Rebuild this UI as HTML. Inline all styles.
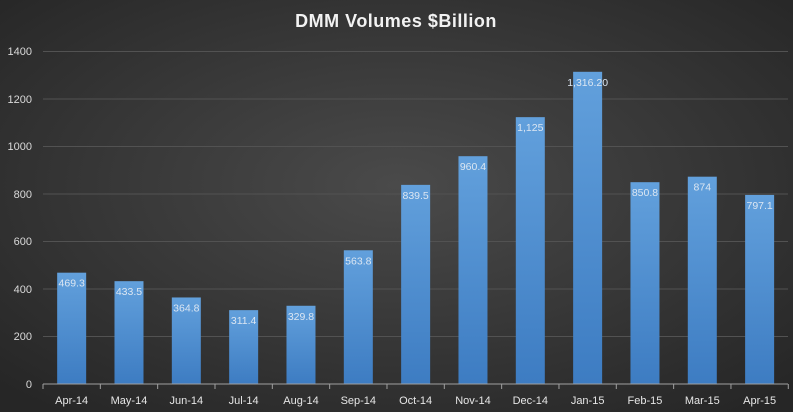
<!DOCTYPE html>
<html><head><style>
html,body{margin:0;padding:0;background:#333;}
svg{display:block;font-family:"Liberation Sans",sans-serif;}
</style></head><body>
<svg width="793" height="412" xmlns="http://www.w3.org/2000/svg">
<defs>
<radialGradient id="bg" cx="50%" cy="45%" r="70%">
<stop offset="0" stop-color="#4a4a4a"/><stop offset="1" stop-color="#262626"/>
</radialGradient>
<linearGradient id="bar" x1="0" y1="0" x2="0" y2="1">
<stop offset="0" stop-color="#62a0dc"/><stop offset="1" stop-color="#3d7cc2"/>
</linearGradient>
</defs>
<rect width="793" height="412" fill="url(#bg)"/>
<text x="396" y="27" fill="#f2f2f2" font-size="18" font-weight="bold" text-anchor="middle" letter-spacing="0.5">DMM Volumes $Billion</text>
<g stroke="#525252" stroke-width="1">
<line x1="43" x2="788" y1="336.5" y2="336.5"/><line x1="43" x2="788" y1="289" y2="289"/>
<line x1="43" x2="788" y1="241.5" y2="241.5"/><line x1="43" x2="788" y1="194" y2="194"/>
<line x1="43" x2="788" y1="146.5" y2="146.5"/><line x1="43" x2="788" y1="99" y2="99"/>
<line x1="43" x2="788" y1="51.5" y2="51.5"/>
</g>
<g fill="#d9d9d9" font-size="11" text-anchor="end">
<text x="32" y="388">0</text><text x="32" y="340">200</text><text x="32" y="293">400</text>
<text x="32" y="245">600</text><text x="32" y="198">800</text><text x="32" y="150">1000</text>
<text x="32" y="103">1200</text><text x="32" y="55">1400</text>
</g>
<g id="bars"></g>
<line x1="43" x2="788" y1="384" y2="384" stroke="#a0a0a0"/>
<g id="ticks" stroke="#a0a0a0"></g>
<g id="labels" fill="#e6e6e6" font-size="11" text-anchor="middle"></g>
<script>
var d=[["Apr-14",469.3,"469.3"],["May-14",433.5,"433.5"],["Jun-14",364.8,"364.8"],["Jul-14",311.4,"311.4"],["Aug-14",329.8,"329.8"],["Sep-14",563.8,"563.8"],["Oct-14",839.5,"839.5"],["Nov-14",960.4,"960.4"],["Dec-14",1125,"1,125"],["Jan-15",1316.2,"1,316.20"],["Feb-15",850.8,"850.8"],["Mar-15",874,"874"],["Apr-15",797.1,"797.1"]];
var ns="http://www.w3.org/2000/svg",b=document.getElementById("bars"),t=document.getElementById("ticks"),l=document.getElementById("labels");
function el(n,a,p,tx){var e=document.createElementNS(ns,n);for(var k in a)e.setAttribute(k,a[k]);if(tx)e.textContent=tx;p.appendChild(e);}
var sp=57.33;
for(var i=0;i<=13;i++)el("line",{x1:43+i*sp,x2:43+i*sp,y1:384,y2:389},t);
d.forEach(function(r,i){var cx=43+sp*(i+0.5),h=r[1]*0.2372,y=384-h;
el("rect",{x:cx-14.5,y:y,width:29,height:h,fill:"url(#bar)"},b);
el("text",{x:cx,y:y+14,fill:"#dbe6f2","font-size":"10.5","text-anchor":"middle"},b,r[2]);
el("text",{x:cx,y:404},l,r[0]);});
</script>
</svg>
</body></html>
